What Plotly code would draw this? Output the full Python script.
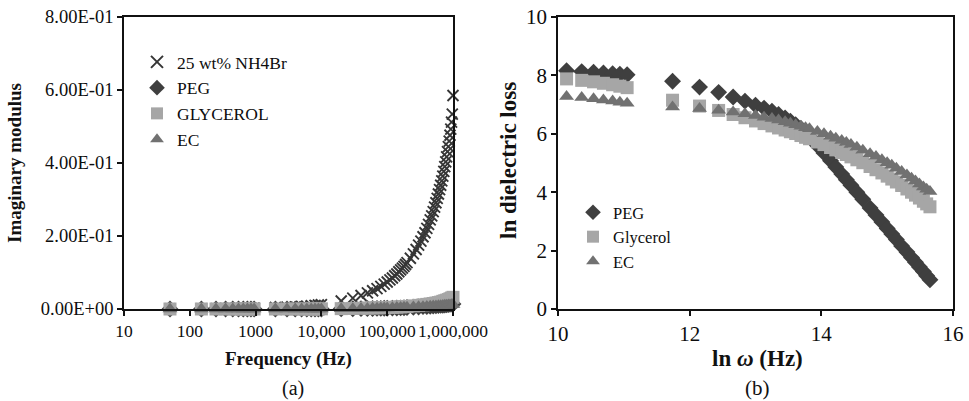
import plotly.graph_objects as go

# ---------------- Panel (a) data ----------------
freq_a = [50, 150, 250, 350, 450, 550, 650, 750, 850, 950,
          2000, 3000, 4000, 5000, 6000, 7000, 8000, 9000, 10000,
          20000, 30000, 40000, 50000, 60000, 70000, 80000, 90000, 100000,
          120000, 140000, 160000, 180000, 200000, 250000, 300000, 350000, 400000, 450000, 500000,
          550000, 600000, 650000, 700000, 750000, 800000, 850000, 900000, 950000, 1000000]

peg_a = [0.0, 0.0, 0.0, 0.0, 0.0, 0.0, 0.0, 0.0, 0.0, 0.0,
         0.0, 0.0, 0.0, 0.0, 0.0, 0.0, 0.0, 0.0, 0.0,
         0.0005, 0.0008, 0.001, 0.0012, 0.0014, 0.0016, 0.0017, 0.0019, 0.002,
         0.0024, 0.0028, 0.0031, 0.0035, 0.004, 0.0048, 0.0056, 0.0064, 0.007, 0.0076, 0.008,
         0.0086, 0.0092, 0.0098, 0.0104, 0.011, 0.0116, 0.0122, 0.0128, 0.0134, 0.014]

glycerol_a = [0.0, 0.0, 0.0, 0.0, 0.0, 0.0, 0.0, 0.0, 0.0, 0.0,
              0.0, 0.0, 0.0, 0.0, 0.0, 0.0, 0.0, 0.0, 0.0005,
              0.001, 0.0015, 0.002, 0.0025, 0.003, 0.0033, 0.0036, 0.0038, 0.004,
              0.0046, 0.0052, 0.0058, 0.0064, 0.007, 0.0085, 0.010, 0.0113, 0.0126, 0.0138, 0.015,
              0.0163, 0.0176, 0.0189, 0.021, 0.0226, 0.0242, 0.0258, 0.028, 0.030, 0.032]

ec_a = [0.0, 0.0, 0.0, 0.0, 0.0, 0.0, 0.0, 0.0, 0.0, 0.0,
        0.0, 0.0, 0.0, 0.0, 0.0, 0.0, 0.0, 0.0, 0.0,
        0.0005, 0.001, 0.0013, 0.0016, 0.0019, 0.0022, 0.0025, 0.0028, 0.003,
        0.0034, 0.0038, 0.0042, 0.0046, 0.005, 0.0055, 0.006, 0.0065, 0.007, 0.0075, 0.008,
        0.0084, 0.0088, 0.0092, 0.0096, 0.010, 0.0104, 0.0108, 0.0112, 0.0116, 0.012]

# 25 wt% NH4Br sample (denser sweep at high frequency)
freq_nh4br = [50, 150, 250, 350, 450, 550, 650, 750, 850, 950,
              2000, 3000, 4000, 5000, 6000, 7000, 8000, 9000, 10000,
              20000, 30000, 40000, 50000, 60000, 70000, 80000, 90000, 100000,
              110000, 120000, 130000, 140000, 150000, 160000, 170000, 180000, 190000, 200000,
              225000, 250000, 275000, 300000, 325000, 350000, 375000, 400000, 425000, 450000,
              475000, 500000, 525000, 550000, 575000, 600000, 625000, 650000, 675000, 700000,
              725000, 750000, 775000, 800000, 825000, 850000, 875000, 900000, 925000, 950000,
              975000, 1000000]

nh4br_a = [0.0002, 0.0005, 0.0008, 0.001, 0.0012, 0.0014, 0.0016, 0.0018, 0.002, 0.0022,
           0.004, 0.005, 0.006, 0.007, 0.008, 0.009, 0.010, 0.011, 0.012,
           0.022, 0.030, 0.037, 0.044, 0.050, 0.056, 0.062, 0.068, 0.074,
           0.080, 0.085, 0.091, 0.096, 0.102, 0.107, 0.112, 0.117, 0.122, 0.127,
           0.139, 0.151, 0.163, 0.175, 0.186, 0.198, 0.209, 0.221, 0.232, 0.244,
           0.255, 0.267, 0.279, 0.291, 0.303, 0.315, 0.327, 0.339, 0.351, 0.364,
           0.377, 0.390, 0.403, 0.417, 0.431, 0.445, 0.460, 0.476, 0.493, 0.512,
           0.534, 0.585]

ticks_a_x = [10, 100, 1000, 10000, 100000, 1000000]
ticktext_a_x = ["10", "100", "1000", "10,000", "100,000", "1,000,000"]
ticks_a_y = [0.0, 0.2, 0.4, 0.6, 0.8]
ticktext_a_y = ["0.00E+00", "2.00E-01", "4.00E-01", "6.00E-01", "8.00E-01"]

# ---------------- Panel (b) data ----------------
lnw_b = [10.13, 10.36, 10.54, 10.69, 10.83, 10.94, 11.05,
         11.74, 12.15, 12.44, 12.66, 12.84, 13.00, 13.13, 13.25, 13.35, 13.45,
         13.53, 13.61, 13.69, 13.76, 13.82, 13.94, 14.04, 14.14, 14.22, 14.31,
         14.38, 14.45, 14.54, 14.63, 14.74, 14.83, 14.92, 15.00, 15.07, 15.14,
         15.22, 15.30, 15.37, 15.43, 15.49, 15.55, 15.60, 15.65]

peg_b = [8.16, 8.13, 8.11, 8.08, 8.06, 8.04, 8.02,
         7.80, 7.60, 7.42, 7.26, 7.12, 6.98, 6.88, 6.77, 6.66, 6.54,
         6.43, 6.31, 6.18, 6.04, 5.90, 5.60, 5.34, 5.08, 4.86, 4.62,
         4.43, 4.24, 4.00, 3.76, 3.46, 3.22, 2.98, 2.76, 2.57, 2.38,
         2.16, 1.95, 1.76, 1.60, 1.44, 1.28, 1.14, 1.00]

glycerol_b = [7.88, 7.83, 7.78, 7.73, 7.68, 7.63, 7.58,
              7.15, 6.95, 6.80, 6.66, 6.55, 6.44, 6.35, 6.27, 6.20, 6.13,
              6.07, 6.01, 5.94, 5.88, 5.83, 5.72, 5.63, 5.53, 5.45, 5.36,
              5.29, 5.21, 5.11, 5.01, 4.88, 4.77, 4.66, 4.55, 4.45, 4.35,
              4.23, 4.11, 4.00, 3.90, 3.80, 3.69, 3.60, 3.50]

ec_b = [7.28, 7.24, 7.20, 7.16, 7.12, 7.08, 7.05,
        6.92, 6.87, 6.81, 6.75, 6.69, 6.63, 6.57, 6.52, 6.47, 6.41,
        6.36, 6.31, 6.26, 6.21, 6.17, 6.08, 6.00, 5.92, 5.85, 5.77,
        5.70, 5.63, 5.54, 5.44, 5.32, 5.22, 5.11, 5.01, 4.92, 4.82,
        4.71, 4.59, 4.48, 4.38, 4.28, 4.18, 4.10, 4.02]

# ---------------- Styles ----------------
C_PEG = "#3f3f3f"
C_GLY = "#a6a6a6"
C_EC = "#717171"
C_X = "#363636"
TXT = "#0d0d0d"
SERIF = "Liberation Serif"

fig = go.Figure()

# Panel (a)
fig.add_trace(go.Scatter(x=freq_nh4br, y=nh4br_a, mode="markers", name="25 wt% NH4Br",
                         marker=dict(symbol="x-thin", size=11, color=C_X,
                                     line=dict(width=1.9, color=C_X)),
                         cliponaxis=False, xaxis="x", yaxis="y", legend="legend"))
fig.add_trace(go.Scatter(x=freq_a, y=peg_a, mode="markers", name="PEG",
                         marker=dict(symbol="diamond", size=13, color=C_PEG, line=dict(width=0)),
                         cliponaxis=False, xaxis="x", yaxis="y", legend="legend"))
fig.add_trace(go.Scatter(x=freq_a, y=glycerol_a, mode="markers", name="GLYCEROL",
                         marker=dict(symbol="square", size=13, color=C_GLY, line=dict(width=0)),
                         cliponaxis=False, xaxis="x", yaxis="y", legend="legend"))
fig.add_trace(go.Scatter(x=freq_a, y=ec_a, mode="markers", name="EC",
                         marker=dict(symbol="triangle-up", size=13, color=C_EC, line=dict(width=0)),
                         cliponaxis=False, xaxis="x", yaxis="y", legend="legend"))

# Panel (b)
fig.add_trace(go.Scatter(x=lnw_b, y=peg_b, mode="markers", name="PEG",
                         marker=dict(symbol="diamond", size=13, color=C_PEG, line=dict(width=0)),
                         cliponaxis=False, xaxis="x2", yaxis="y2", legend="legend2"))
fig.add_trace(go.Scatter(x=lnw_b, y=glycerol_b, mode="markers", name="Glycerol",
                         marker=dict(symbol="square", size=13, color=C_GLY, line=dict(width=0)),
                         cliponaxis=False, xaxis="x2", yaxis="y2", legend="legend2"))
fig.add_trace(go.Scatter(x=lnw_b, y=ec_b, mode="markers", name="EC",
                         marker=dict(symbol="triangle-up", size=13, color=C_EC, line=dict(width=0)),
                         cliponaxis=False, xaxis="x2", yaxis="y2", legend="legend2"))

W, H = 969, 401
ydom = [1 - 309 / H, 1 - 17 / H]

axis_common = dict(showline=True, mirror=True, linecolor="#111111", linewidth=1.7,
                   ticks="outside", ticklen=5, tickwidth=1.5, tickcolor="#111111",
                   showgrid=False, zeroline=False, automargin=False, tickangle=0)

fig.update_layout(
    width=W, height=H,
    margin=dict(l=0, r=0, t=0, b=0, autoexpand=False),
    paper_bgcolor="white", plot_bgcolor="white",
    font=dict(family=SERIF, color=TXT),
    xaxis=dict(domain=[124 / W, 453 / W], type="log", range=[1, 6],
               tickvals=ticks_a_x, ticktext=ticktext_a_x, anchor="y",
               tickfont=dict(family=SERIF, size=17.5, color=TXT), **axis_common),
    yaxis=dict(domain=ydom, range=[0, 0.8], tickvals=ticks_a_y, ticktext=ticktext_a_y,
               anchor="x", tickfont=dict(family=SERIF, size=18.5, color=TXT), **axis_common),
    xaxis2=dict(domain=[558 / W, 953 / W], range=[10, 16], dtick=2, tick0=10, anchor="y2",
                tickfont=dict(family=SERIF, size=21, color=TXT), **axis_common),
    yaxis2=dict(domain=ydom, range=[0, 10], dtick=2, tick0=0, anchor="x2",
                tickfont=dict(family=SERIF, size=21, color=TXT), **axis_common),
    legend=dict(x=137 / W, y=1 - 44 / H, xanchor="left", yanchor="top",
                font=dict(family=SERIF, size=17.5, color=TXT),
                bgcolor="rgba(0,0,0,0)", itemsizing="constant", tracegroupgap=0),
    legend2=dict(x=573 / W, y=1 - 195 / H, xanchor="left", yanchor="top",
                 font=dict(family=SERIF, size=16.5, color=TXT),
                 bgcolor="rgba(0,0,0,0)", itemsizing="constant", tracegroupgap=0),
    showlegend=True,
)

annots = [
    dict(text="<b>Imaginary modulus</b>", x=14 / W, y=1 - 163 / H, textangle=-90, size=19),
    dict(text="<b>Frequency (Hz)</b>", x=288 / W, y=1 - 359 / H, textangle=0, size=19),
    dict(text="(a)", x=293 / W, y=1 - 388 / H, textangle=0, size=20),
    dict(text="<b>ln dielectric loss</b>", x=508 / W, y=1 - 161 / H, textangle=-90, size=23),
    dict(text="<b>ln <i>ω</i> (Hz)</b>", x=757 / W, y=1 - 358 / H, textangle=0, size=23),
    dict(text="(b)", x=757 / W, y=1 - 388 / H, textangle=0, size=21),
]
for a in annots:
    fig.add_annotation(text=a["text"], x=a["x"], y=a["y"], xref="paper", yref="paper",
                       xanchor="center", yanchor="middle", showarrow=False,
                       textangle=a["textangle"],
                       font=dict(family=SERIF, size=a["size"], color="#111111"))

fig.write_html("out.html")
